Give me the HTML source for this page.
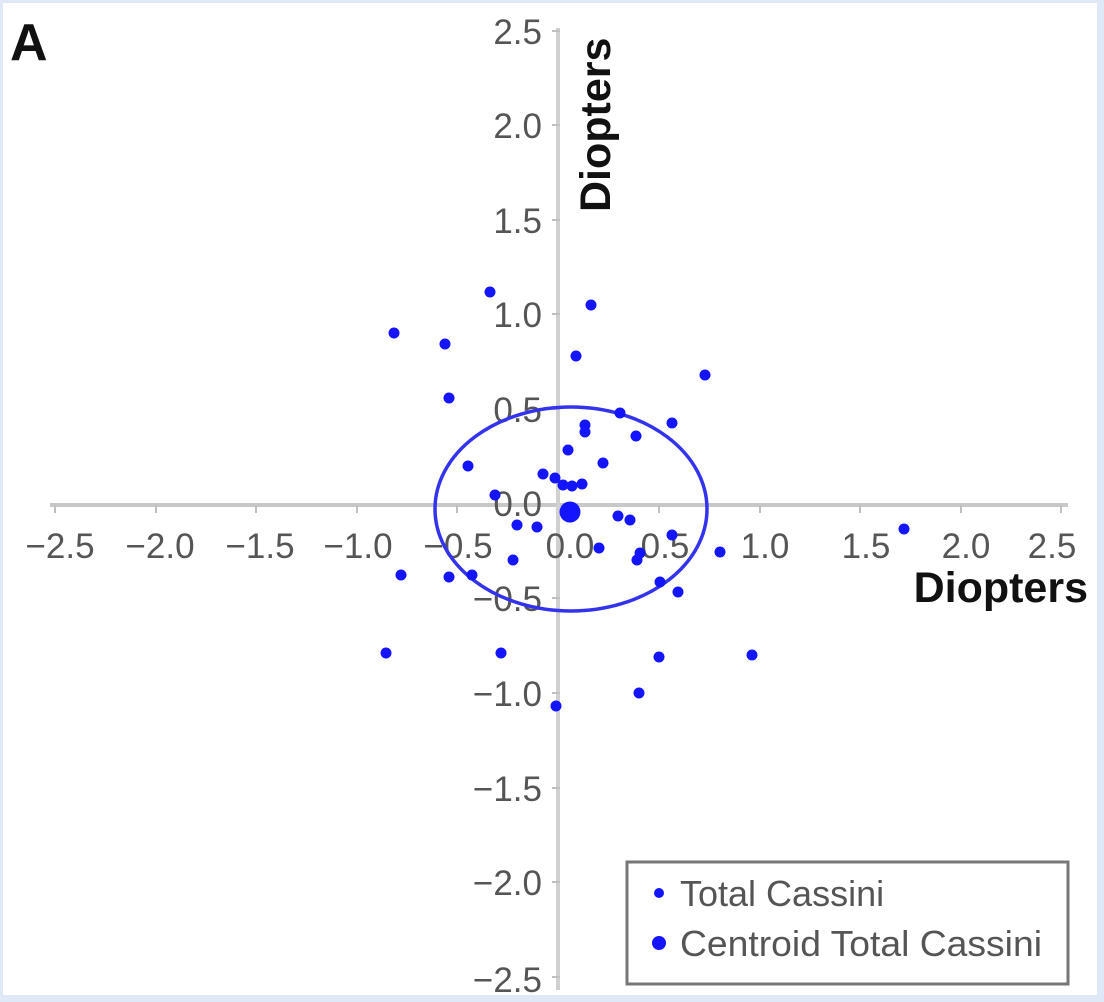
<!DOCTYPE html>
<html><head><style>
html,body{margin:0;padding:0;background:#dfe8f6;}
svg{display:block}
</style></head><body>
<svg width="1104" height="1002" xmlns="http://www.w3.org/2000/svg" font-family="Liberation Sans, Arial, sans-serif">
<rect x="0" y="0" width="1104" height="1002" fill="#dfe8f6"/>
<rect x="3" y="3" width="1094" height="992" fill="#ffffff"/>
<text x="10" y="60" font-size="52" font-weight="bold" fill="#111">A</text>
<line x1="50" y1="505" x2="1068" y2="505" stroke="#c8c8c8" stroke-width="4"/>
<line x1="558" y1="28" x2="558" y2="990" stroke="#d0d0d0" stroke-width="4"/>
<g stroke="#c0c0c0" stroke-width="2">
<line x1="55" y1="505" x2="55" y2="513"/><line x1="156" y1="505" x2="156" y2="513"/><line x1="256" y1="505" x2="256" y2="513"/><line x1="357" y1="505" x2="357" y2="513"/><line x1="457" y1="505" x2="457" y2="513"/><line x1="659" y1="505" x2="659" y2="513"/><line x1="760" y1="505" x2="760" y2="513"/><line x1="860" y1="505" x2="860" y2="513"/><line x1="961" y1="505" x2="961" y2="513"/><line x1="1061" y1="505" x2="1061" y2="513"/>
<line x1="552" y1="31" x2="560" y2="31"/><line x1="552" y1="125" x2="560" y2="125"/><line x1="552" y1="220" x2="560" y2="220"/><line x1="552" y1="314" x2="560" y2="314"/><line x1="552" y1="409" x2="560" y2="409"/><line x1="552" y1="598" x2="560" y2="598"/><line x1="552" y1="693" x2="560" y2="693"/><line x1="552" y1="788" x2="560" y2="788"/><line x1="552" y1="882" x2="560" y2="882"/><line x1="552" y1="977" x2="560" y2="977"/>
</g>
<g font-size="35" fill="#555" text-anchor="middle">
<text x="60" y="558">−2.5</text><text x="160" y="558">−2.0</text><text x="260" y="558">−1.5</text><text x="358" y="558">−1.0</text><text x="458" y="558">−0.5</text><text x="570" y="558">0.0</text><text x="665" y="558">0.5</text><text x="765" y="558">1.0</text><text x="866" y="558">1.5</text><text x="966" y="558">2.0</text><text x="1052" y="558">2.5</text>
</g>
<g font-size="35" fill="#555" text-anchor="end">
<text x="542" y="44">2.5</text><text x="542" y="138">2.0</text><text x="542" y="233">1.5</text><text x="542" y="327">1.0</text><text x="542" y="422">0.5</text><text x="542" y="516">0.0</text><text x="542" y="611">−0.5</text><text x="542" y="706">−1.0</text><text x="542" y="801">−1.5</text><text x="542" y="895">−2.0</text><text x="542" y="992">−2.5</text>
</g>
<text x="1088" y="602" font-size="43" font-weight="bold" fill="#111" text-anchor="end">Diopters</text>
<text transform="translate(610,212) rotate(-90)" font-size="43" font-weight="bold" fill="#111">Diopters</text>
<ellipse cx="571" cy="509" rx="136" ry="102" fill="none" stroke="#3333ee" stroke-width="3.5"/>
<g fill="#1414ff">
<circle cx="490" cy="292" r="5.5"/><circle cx="591" cy="305" r="5.5"/><circle cx="394" cy="333" r="5.5"/><circle cx="445" cy="344" r="5.5"/><circle cx="576" cy="356" r="5.5"/><circle cx="705" cy="375" r="5.5"/><circle cx="449" cy="398" r="5.5"/>
<circle cx="585" cy="425" r="5.5"/><circle cx="585" cy="432" r="5.5"/><circle cx="620" cy="413" r="5.5"/><circle cx="636" cy="436" r="5.5"/><circle cx="672" cy="423" r="5.5"/><circle cx="568" cy="450" r="5.5"/><circle cx="603" cy="463" r="5.5"/><circle cx="468" cy="466" r="5.5"/><circle cx="543" cy="474" r="5.5"/><circle cx="555" cy="478" r="5.5"/><circle cx="563" cy="485" r="5.5"/><circle cx="582" cy="484" r="5.5"/><circle cx="572" cy="486" r="5.5"/><circle cx="495" cy="495" r="5.5"/>
<circle cx="517" cy="525" r="5.5"/><circle cx="537" cy="527" r="5.5"/><circle cx="618" cy="516" r="5.5"/><circle cx="630" cy="520" r="5.5"/><circle cx="599" cy="548" r="5.5"/><circle cx="640" cy="553" r="5.5"/><circle cx="637" cy="560" r="5.5"/><circle cx="672" cy="535" r="5.5"/><circle cx="513" cy="560" r="5.5"/><circle cx="449" cy="577" r="5.5"/><circle cx="472" cy="575" r="5.5"/><circle cx="401" cy="575" r="5.5"/><circle cx="720" cy="552" r="5.5"/><circle cx="660" cy="582" r="5.5"/><circle cx="678" cy="592" r="5.5"/>
<circle cx="386" cy="653" r="5.5"/><circle cx="501" cy="653" r="5.5"/><circle cx="659" cy="657" r="5.5"/><circle cx="752" cy="655" r="5.5"/><circle cx="639" cy="693" r="5.5"/><circle cx="556" cy="706" r="5.5"/><circle cx="904" cy="529" r="5.5"/>
<circle cx="570" cy="512" r="10.5"/>
</g>
<rect x="627" y="862" width="441" height="122" fill="#fff" stroke="#777" stroke-width="3"/>
<circle cx="659" cy="893" r="5" fill="#1414ff"/>
<circle cx="659" cy="943" r="7" fill="#1414ff"/>
<g font-size="36" fill="#555"><text x="680" y="906">Total Cassini</text><text x="680" y="956" textLength="362" lengthAdjust="spacingAndGlyphs">Centroid Total Cassini</text></g>
</svg>
</body></html>
